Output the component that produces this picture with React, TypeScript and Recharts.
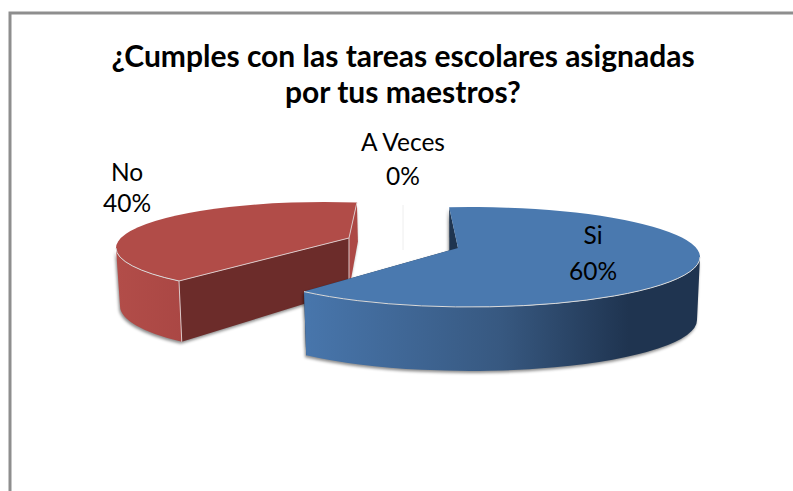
import React from 'react';
import { PieChart, Pie } from 'recharts';

const categories = ['No', 'A Veces', 'Si'];
const seriesValues = [40, 0, 60];
const titleLines = ['¿Cumples con las tareas escolares asignadas', 'por tus maestros?'];

const FONT = 'Lato, "Open Sans", sans-serif';
const W = 793;
const H = 491;
const CX = 403;
const CY = 243;

// Drawing style of each slice: how its pie angles are projected to the tilted 3-D view.
type Look = {
  top: [number, number, number, number];
  bottom: [number, number, number, number];
  apex: [number, number];
  apexBottom: [number, number];
  shiftStart: number;
  shiftEnd: number;
  rimDrop?: [number, number];
  topFill: string;
  sideFill: string;
  startCut: string;
  endCut: string;
  edges: boolean;
  label: [number, number, number];
};

const looks: Record<string, Look> = {
  Si: {
    top: [67, 14, 230, 50],
    bottom: [67, 77, 227, 51],
    apex: [55, 5],
    apexBottom: [55, 70],
    shiftStart: -5.2,
    shiftEnd: 10.2,
    topFill: '#4A79AF',
    sideFill: 'url(#blueSide)',
    startCut: '#1F3550',
    endCut: '#1F3550',
    edges: false,
    label: [190, 1, 36],
  },
  No: {
    top: [-79, 5, 208, 46],
    bottom: [-79, 63, 204, 50],
    apex: [-54, -5],
    apexBottom: [-54, 47],
    shiftStart: 8.2,
    shiftEnd: 9.1,
    rimDrop: [1, 39],
    topFill: '#B14C48',
    sideFill: 'url(#redSide)',
    startCut: '#AC4845',
    endCut: '#6C2C2A',
    edges: true,
    label: [-276, -62, 31],
  },
  'A Veces': {
    top: [0, 12, 230, 50],
    bottom: [0, 12, 230, 50],
    apex: [0, 7],
    apexBottom: [0, 7],
    shiftStart: 0,
    shiftEnd: 0,
    topFill: 'none',
    sideFill: 'none',
    startCut: 'none',
    endCut: 'none',
    edges: false,
    label: [0, -92, 34],
  },
};

const rad = (d: number) => (d * Math.PI) / 180;
const onEllipse = (e: number[], deg: number): [number, number] => [
  CX + e[0] + e[2] * Math.sin(rad(deg)),
  CY + e[1] - e[3] * Math.cos(rad(deg)),
];
const P = (p: number[]) => `${p[0].toFixed(2)} ${p[1].toFixed(2)}`;
const arcTo = (e: number[], to: number, large: boolean, sweep: boolean) =>
  `A ${e[2]} ${e[3]} 0 ${large ? 1 : 0} ${sweep ? 1 : 0} ${P(onEllipse(e, to))}`;

function Slice3D(props: any) {
  const name = props.name ?? props.payload?.name;
  const look = looks[name];
  if (!look) return null;
  const span = Math.abs(props.startAngle - props.endAngle);
  const raw = ((90 - props.startAngle) % 360 + 360) % 360;
  const a0 = raw + look.shiftStart;
  const a1 = raw + span + look.shiftEnd;
  const apex: [number, number] = [CX + look.apex[0], CY + look.apex[1]];
  const apexB: [number, number] = [CX + look.apexBottom[0], CY + look.apexBottom[1]];
  const rimS = onEllipse(look.top, a0);
  const rimE = onEllipse(look.top, a1);

  if (span < 0.01) {
    return <line x1={rimS[0]} y1={rimS[1]} x2={apex[0]} y2={apex[1]} stroke="#EEEEEE" strokeWidth={1} />;
  }

  const rimSB: number[] = look.rimDrop ? [rimS[0], rimS[1]] : onEllipse(look.bottom, a0);
  const rimEB = onEllipse(look.bottom, a1);
  const sideA = Math.max(a0, 90);
  const sideB = Math.min(a1, 270);
  const startBottom = look.rimDrop
    ? [onEllipse(look.top, a1)[0] + look.rimDrop[0], onEllipse(look.top, a1)[1] + look.rimDrop[1]]
    : rimSB;
  const largeTop = a1 - a0 > 180;
  const largeSide = sideB - sideA > 180;

  const topPath = `M ${P(apex)} L ${P(rimS)} ${arcTo(look.top, a1, largeTop, true)} Z`;
  const sidePath =
    `M ${P(onEllipse(look.top, sideA))} ${arcTo(look.top, sideB, largeSide, true)} ` +
    `L ${P(onEllipse(look.bottom, sideB))} ${arcTo(look.bottom, sideA, largeSide, false)} Z`;
  const rimPath = `M ${P(onEllipse(look.top, sideA))} ${arcTo(look.top, sideB, largeSide, true)}`;

  const farRim = look.rimDrop ? rimE : rimS;
  const farCut = `M ${P(apex)} L ${P(farRim)} L ${P(startBottom)} L ${P(apexB)} Z`;
  const nearRim = look.rimDrop ? rimS : rimE;
  const nearRimB = look.rimDrop ? onEllipse(look.bottom, a0) : rimEB;
  const nearCut = `M ${P(apex)} L ${P(nearRim)} L ${P(nearRimB)} L ${P(apexB)} Z`;

  return (
    <g>
      <g style={{ filter: 'drop-shadow(-1px 2px 1.5px rgba(0,0,0,0.45))' }}>
        <path d={farCut} fill={look.startCut} />
        <path d={nearCut} fill={look.endCut} />
        <path d={sidePath} fill={look.sideFill} />
      </g>
      <path d={topPath} fill={look.topFill} />
      <path d={rimPath} fill="none" stroke="#DADADA" strokeWidth={1} />
      {look.edges && (
        <g fill="none" stroke="#DCC8C8" strokeWidth={1}>
          <path d={`M ${P(farRim)} L ${P(apex)} L ${P(nearRim)} L ${P(nearRimB)}`} />
          <path d={`M ${P(apex)} L ${P(apexB)}`} />
        </g>
      )}
    </g>
  );
}

function SliceLabel(props: any) {
  const look = looks[props.name ?? props.payload?.name];
  if (!look) return null;
  const x = CX + look.label[0];
  const y = CY + look.label[1];
  return (
    <text x={x} y={y} textAnchor="middle" fontFamily={FONT} fontSize={24.5} fill="#000">
      <tspan x={x} y={y}>{props.name ?? props.payload?.name}</tspan>
      <tspan x={x} y={y + look.label[2]}>{`${Math.round((props.percent ?? 0) * 100)}%`}</tspan>
    </text>
  );
}

const data = categories.map((name, i) => ({ name, value: seriesValues[i] }));

export default function App() {
  return (
    <div style={{ position: 'absolute', left: 0, top: 0, width: W, height: H, background: '#fff' }}>
      <PieChart width={W} height={H} margin={{ top: 0, right: 0, bottom: 0, left: 0 }}>
        <defs>
          <linearGradient id="blueSide" gradientUnits="userSpaceOnUse" x1={304} y1={0} x2={700} y2={0}>
            <stop offset="0" stopColor="#4876AC" />
            <stop offset="0.5" stopColor="#375880" />
            <stop offset="0.82" stopColor="#1F3450" />
            <stop offset="1" stopColor="#1F3450" />
          </linearGradient>
          <linearGradient id="redSide" gradientUnits="userSpaceOnUse" x1={116} y1={0} x2={183} y2={0}>
            <stop offset="0" stopColor="#B24D49" />
            <stop offset="1" stopColor="#AA4744" />
          </linearGradient>
        </defs>
        <rect x={10} y={13} width={W} height={H} fill="none" stroke="#8E8E8E" strokeWidth={3} />
        <text textAnchor="middle" fontFamily={FONT} fontWeight={700} fontSize={30} fill="#000">
          <tspan x={403} y={67}>{titleLines[0]}</tspan>
          <tspan x={403} y={103}>{titleLines[1]}</tspan>
        </text>
        <Pie
          data={data}
          dataKey="value"
          nameKey="name"
          cx={CX}
          cy={CY}
          innerRadius={0}
          outerRadius={230}
          startAngle={-126}
          endAngle={-486}
          stroke="none"
          isAnimationActive={false}
          shape={Slice3D}
          label={SliceLabel}
          labelLine={false}
        />
      </PieChart>
    </div>
  );
}
